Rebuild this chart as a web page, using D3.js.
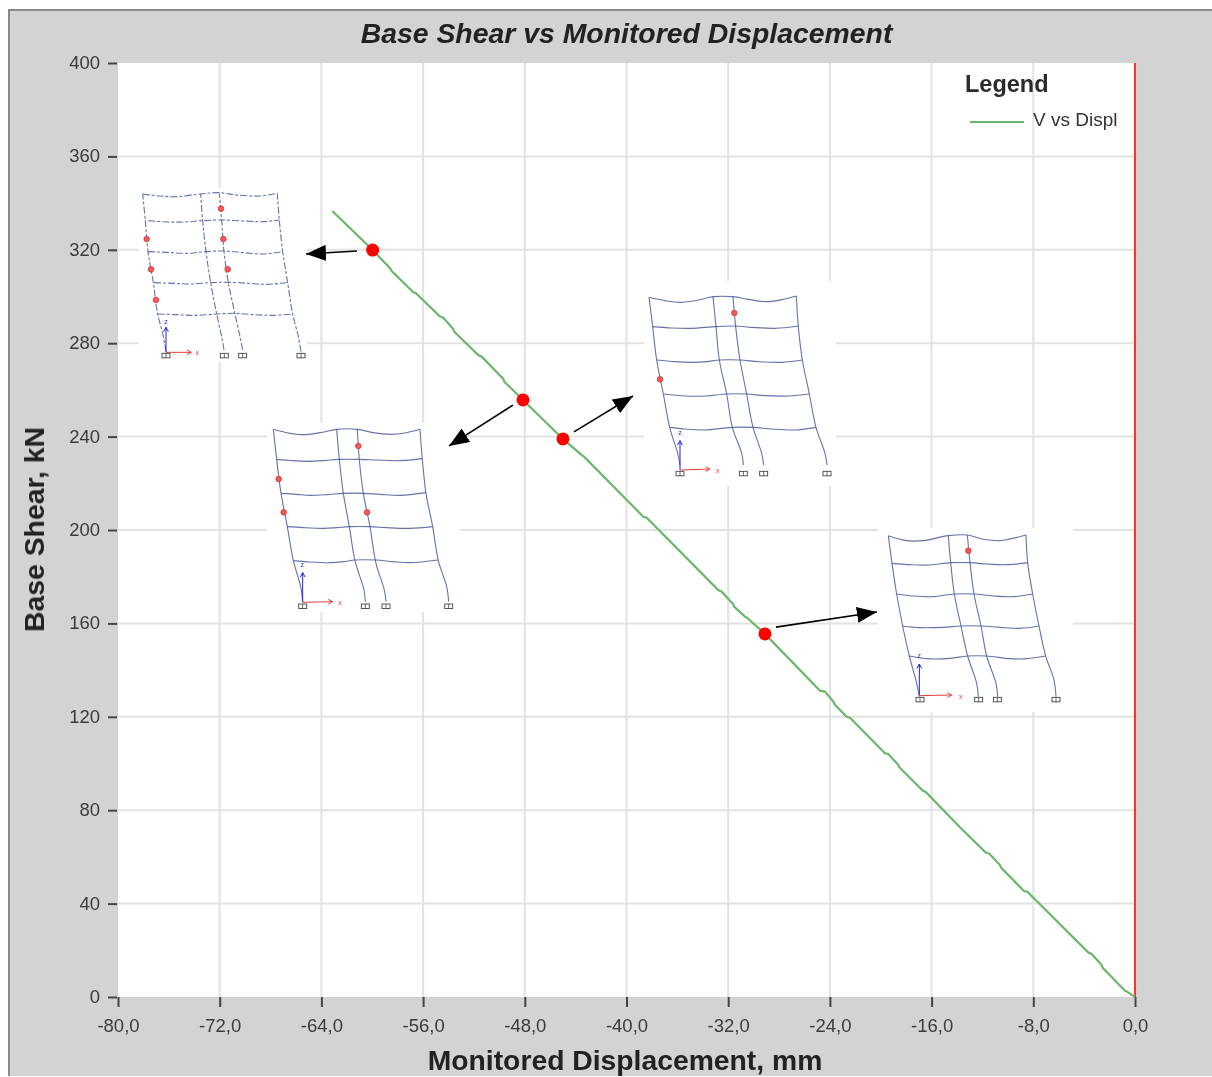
<!DOCTYPE html>
<html><head><meta charset="utf-8">
<script src="https://cdn.jsdelivr.net/npm/d3@7"></script>
<style>html,body{margin:0;padding:0;background:#fff;overflow:hidden}svg{display:block}text{font-family:"Liberation Sans",Arial,sans-serif}</style>
</head><body>
<script>
const xTickValues=[-80,-72,-64,-56,-48,-40,-32,-24,-16,-8,0];
const yTickValues=[0,40,80,120,160,200,240,280,320,360,400];
const titleText="Base Shear vs Monitored Displacement";
const xLabelText="Monitored Displacement, mm";
const yLabelText="Base Shear, kN";
const legendTitle="Legend";
const seriesName="V vs Displ";
const curveDisp=[-63.14,-59.97,-58.6,-58.47,-56.77,-56.56,-54.67,-54.41,-53.63,-53.55,-51.66,-51.39,-49.69,-49.61,-48.14,-45,-43.52,-43.34,-38.68,-38.41,-32.78,-32.51,-31.6,-31.54,-30.68,-30.47,-29.11,-24.78,-24.39,-23.73,-23.6,-22.68,-22.42,-19.67,-19.41,-18.62,-18.54,-16.7,-16.44,-13.77,-11.72,-11.46,-10.62,-10.54,-8.73,-8.47,-3.67,-3.41,-2.62,-2.54,-0.79,-0.57,0];
const curveShear=[336.6,319.9,312.1,310.9,301.8,301.4,291.4,290.9,286.1,284.9,274.9,274.2,264.7,263.5,255.7,239,232.1,231.4,205.7,205.3,174.3,173.6,168.2,167.2,162.9,162.2,155.5,131.2,130.8,126.5,125.1,120,119.6,104.4,104.1,99.4,98.4,88.4,87.7,72.7,61.8,61.4,56.5,55.4,45.4,45.1,19,18.4,13.7,12.5,2.7,2.1,0];
const stepDisp=[-59.97,-48.14,-45,-29.11];
const stepShear=[319.9,255.7,239,155.5];
// Deformed-frame sketches, each in its own sketch units
const sketchA={dashed:true,
 columns:[[[138,545],[128,490],[113,432],[100,338],[84,245],[76,152],[68,72]],[[312,540],[305,500],[290,432],[272,338],[258,245],[248,152],[242,72]],[[368,540],[360,500],[345,432],[325,338],[312,245],[305,152],[298,70]],[[543,545],[535,500],[518,432],[503,338],[488,245],[478,152],[472,70]]],
 beams:[[[68,72],[120,78],[170,80],[242,72],[298,68],[350,75],[420,78],[472,70]],[[85,152],[140,156],[195,156],[248,152],[305,150],[370,153],[430,155],[478,150]],[[84,245],[140,247],[200,250],[258,245],[312,243],[370,248],[430,252],[488,245]],[[102,338],[160,340],[215,342],[272,338],[325,337],[385,340],[440,343],[503,338]],[[113,432],[170,434],[230,436],[290,432],[345,430],[400,434],[460,436],[518,432]]],
 hinges:[[303,116],[80,207],[310,207],[93,298],[323,298],[108,390]],
 supports:[[138,556],[313,556],[368,556],[543,556]],
 origin:[138,547],zTip:[138,472],xTip:[214,547],zLabel:[138,462],xLabel:[232,554]};
const sketchB={dashed:false,
 columns:[[[128,575],[122,530],[100,452],[82,350],[63,250],[50,148],[40,58]],[[316,575],[312,540],[285,452],[268,350],[250,250],[238,148],[230,58]],[[378,575],[373,540],[348,460],[330,350],[310,250],[298,150],[292,58]],[[566,575],[560,530],[535,452],[518,350],[498,250],[487,148],[480,58]]],
 beams:[[[40,58],[80,68],[130,74],[180,68],[230,58],[292,58],[340,68],[390,73],[440,68],[480,58]],[[50,148],[100,152],[140,154],[190,152],[238,148],[298,148],[350,150],[420,152],[487,146]],[[63,250],[110,253],[150,256],[200,254],[250,250],[310,250],[360,253],[420,256],[498,248]],[[82,350],[130,353],[190,355],[230,353],[268,350],[330,350],[380,353],[450,355],[518,350]],[[100,452],[150,456],[210,458],[250,455],[285,450],[348,450],[400,455],[450,458],[535,450]]],
 hinges:[[295,108],[56,207],[71,307],[321,307]],
 supports:[[128,588],[316,588],[378,588],[566,588]],
 origin:[128,577],zTip:[128,488],xTip:[218,575],zLabel:[127,472],xLabel:[240,586]};
const sketchC={dashed:false,
 columns:[[[135,555],[128,520],[104,442],[85,342],[65,240],[53,140],[42,52]],[[325,555],[320,520],[292,442],[275,342],[253,240],[243,140],[234,50]],[[386,555],[380,520],[354,442],[335,342],[315,240],[302,140],[294,50]],[[576,555],[570,520],[543,442],[523,342],[502,240],[490,140],[484,48]]],
 beams:[[[42,52],[90,62],[135,67],[190,60],[234,50],[294,50],[340,58],[395,65],[445,58],[484,48]],[[53,140],[110,144],[170,145],[243,140],[302,138],[350,142],[420,145],[490,138]],[[65,240],[120,245],[170,247],[215,245],[253,240],[315,240],[370,245],[440,247],[502,240]],[[85,342],[150,348],[210,348],[275,342],[335,342],[390,347],[460,348],[523,342]],[[104,442],[150,447],[210,450],[292,442],[354,442],[410,447],[480,450],[543,442]]],
 hinges:[[298,99],[75,298]],
 supports:[[135,580],[325,580],[386,580],[576,580]],
 origin:[135,570],zTip:[135,482],xTip:[225,567],zLabel:[135,464],xLabel:[248,578]};
const sketchD={dashed:false,
 columns:[[[148,530],[140,490],[118,408],[98,318],[80,222],[66,130],[55,47]],[[325,530],[320,490],[293,408],[273,318],[253,222],[242,128],[235,47]],[[383,530],[378,490],[350,408],[333,318],[312,222],[300,128],[292,45]],[[558,530],[552,480],[527,408],[507,318],[488,222],[473,128],[468,45]]],
 beams:[[[55,47],[110,62],[160,62],[235,47],[292,45],[340,58],[390,62],[468,45]],[[66,130],[120,134],[180,135],[242,128],[300,128],[350,132],[410,134],[473,128]],[[80,222],[130,228],[190,230],[253,222],[312,222],[370,228],[430,230],[488,222]],[[98,318],[150,323],[220,322],[273,318],[333,318],[390,322],[450,325],[507,318]],[[118,408],[170,416],[240,415],[293,408],[350,408],[420,416],[470,416],[527,408]]],
 hinges:[[295,92]],
 supports:[[150,538],[326,538],[382,538],[558,538]],
 origin:[148,527],zTip:[148,432],xTip:[245,525],zLabel:[148,414],xLabel:[272,536]};

const W=1212,H=1077,L=118,R=1135,T=63,B=997;
const svg=d3.select("body").append("svg").attr("width",W).attr("height",H);
const defs=svg.append("defs");
defs.append("filter").attr("id","soft").append("feGaussianBlur").attr("stdDeviation",0.4);
defs.append("filter").attr("id","softer").append("feGaussianBlur").attr("stdDeviation",0.3);
defs.append("marker").attr("id","blackHead").attr("viewBox","0 0 20 16").attr("refX",20).attr("refY",8)
 .attr("markerUnits","userSpaceOnUse").attr("markerWidth",20).attr("markerHeight",16).attr("orient","auto")
 .append("path").attr("d","M0,0L20,8L0,16Z").attr("fill","#000");

// frame
svg.append("rect").attr("x",9).attr("y",10).attr("width",W-9).attr("height",H-11).attr("fill","#d3d3d3");
svg.append("path").attr("d",`M9,${H-1}V10H${W}`).attr("fill","none").attr("stroke","#8a8a8a").attr("stroke-width",2);
svg.append("rect").attr("x",L).attr("y",T).attr("width",R-L).attr("height",B-T).attr("fill","#fff");

const x=d3.scaleLinear().domain([-80,0]).range([L,R]);
const y=d3.scaleLinear().domain([0,400]).range([B,T]);
const fmtX=d3.formatLocale({decimal:",",thousands:".",grouping:[3],currency:["",""],minus:"-"}).format(".1f");

// grid
const grid=svg.append("g").attr("stroke","#e2e2e2").attr("stroke-width",2);
grid.selectAll(".gx").data(xTickValues.slice(1,-1)).join("line").attr("x1",d=>x(d)).attr("x2",d=>x(d)).attr("y1",T).attr("y2",B);
grid.selectAll(".gy").data(yTickValues.slice(1,-1)).join("line").attr("x1",L).attr("x2",R).attr("y1",d=>y(d)).attr("y2",d=>y(d));
svg.append("line").attr("x1",x(0)).attr("x2",x(0)).attr("y1",T).attr("y2",B).attr("stroke","#ff3030").attr("stroke-width",2);

// axes
const axX=svg.append("g").attr("transform",`translate(0,${B})`).call(d3.axisBottom(x).tickValues(xTickValues).tickFormat(fmtX).tickSize(10).tickPadding(8));
const axY=svg.append("g").attr("transform",`translate(${L-1},0)`).call(d3.axisLeft(y).tickValues(yTickValues).tickSize(9).tickPadding(8));
[axX,axY].forEach(a=>{a.select(".domain").remove();
 a.selectAll("line").attr("stroke","#444").attr("stroke-width",2);
 a.selectAll("text").attr("fill","#3a3a3a").attr("font-size",18.5).attr("font-family",'"Liberation Sans",Arial,sans-serif').attr("filter","url(#softer)");});
axY.selectAll("text").attr("dy","0").attr("y",5.5);
axX.selectAll("text").attr("dy","0").attr("y",35);

// series
svg.append("path").datum(d3.zip(curveDisp,curveShear)).attr("fill","none").attr("stroke","#6cb56c").attr("stroke-width",2.2)
 .attr("d",d3.line().x(d=>x(d[0])).y(d=>y(d[1])));

// inset sketches
const curve=d3.line().curve(d3.curveCatmullRom.alpha(0.5));
function drawSketch(s,box,zoomOrigin){
 const sx=d3.scaleLinear().domain([0,3]).range([zoomOrigin[0],zoomOrigin[0]+1]);
 const sy=d3.scaleLinear().domain([0,3]).range([zoomOrigin[1],zoomOrigin[1]+1]);
 const P=p=>[sx(p[0]),sy(p[1])];
 svg.append("rect").attr("x",box[0]).attr("y",box[1]).attr("width",box[2]-box[0]).attr("height",box[3]-box[1]).attr("fill","#fff");
 const g=svg.append("g").attr("filter","url(#soft)");
 const frame=g.append("g").attr("fill","none").attr("stroke","#4a5a9e").attr("stroke-width",1.1).attr("stroke-opacity",0.85);
 if(s.dashed) frame.attr("stroke-dasharray","7 2 3 2");
 s.columns.concat(s.beams).forEach(c=>frame.append("path").attr("d",curve(c.map(P))));
 s.supports.forEach(p=>{const [a,b]=P(p);
  g.append("rect").attr("x",a-4).attr("y",b-2).attr("width",8).attr("height",4.5).attr("fill","#fff").attr("stroke","#444").attr("stroke-width",0.9);
  g.append("line").attr("x1",a).attr("x2",a).attr("y1",b-2).attr("y2",b+2.5).attr("stroke","#444").attr("stroke-width",0.8);});
 const arrow=(from,to,col)=>{const [a,b]=P(from),[c,d]=P(to);const th=Math.atan2(d-b,c-a),h=5;
  g.append("line").attr("x1",a).attr("y1",b).attr("x2",c).attr("y2",d).attr("stroke",col).attr("stroke-width",1);
  g.append("path").attr("d",`M${c-h*Math.cos(th-0.5)},${d-h*Math.sin(th-0.5)}L${c},${d}L${c-h*Math.cos(th+0.5)},${d-h*Math.sin(th+0.5)}`).attr("fill","none").attr("stroke",col).attr("stroke-width",1);};
 arrow(s.origin,s.zTip,"#2020d8"); arrow(s.origin,s.xTip,"#e04040");
 g.append("text").attr("x",P(s.zLabel)[0]).attr("y",P(s.zLabel)[1]).attr("text-anchor","middle").attr("font-size",7).attr("fill","#3030d0").text("z");
 g.append("text").attr("x",P(s.xLabel)[0]).attr("y",P(s.xLabel)[1]).attr("text-anchor","middle").attr("font-size",7).attr("fill","#e04040").text("x");
 g.selectAll(".h").data(s.hinges).join("circle").attr("cx",d=>P(d)[0]).attr("cy",d=>P(d)[1]).attr("r",2.8)
  .attr("fill","#f05a5a").attr("stroke","#d02828").attr("stroke-width",0.7);
}
drawSketch(sketchA,[139,188,307,362],[120,170]);
drawSketch(sketchB,[267,423,460,612],[260,410]);
drawSketch(sketchC,[644,281,836,486],[635,280]);
drawSketch(sketchD,[878,528,1073,712],[870,520]);

// annotation arrows (data coordinates)
[[[-61.2,319.5],[-65.21,318.2]],[[-48.93,253.5],[-53.96,236]],[[-44.13,242],[-39.49,257.4]],[[-28.24,158.4],[-20.3,164.9]]].forEach(a=>{
 svg.append("line").attr("x1",x(a[0][0])).attr("y1",y(a[0][1])).attr("x2",x(a[1][0])).attr("y2",y(a[1][1]))
  .attr("stroke","#000").attr("stroke-width",1.6).attr("marker-end","url(#blackHead)");});

// step markers
svg.selectAll(".step").data(d3.zip(stepDisp,stepShear)).join("circle").attr("cx",d=>x(d[0])).attr("cy",d=>y(d[1])).attr("r",6.5).attr("fill","#f00");

// legend
svg.append("text").attr("x",965).attr("y",92).attr("font-size",23.5).attr("font-weight","bold").attr("fill","#2b2b2b").attr("filter","url(#softer)").text(legendTitle);
svg.append("line").attr("x1",970).attr("x2",1024).attr("y1",122).attr("y2",122).attr("stroke","#6cb56c").attr("stroke-width",2.2);
svg.append("text").attr("x",1033).attr("y",126).attr("font-size",19).attr("fill","#333").attr("filter","url(#softer)").text(seriesName);

// titles
svg.append("text").attr("x",626.5).attr("y",43).attr("text-anchor","middle").attr("font-size",28.4).attr("font-weight","bold").attr("font-style","italic").attr("fill","#222").attr("filter","url(#softer)").text(titleText);
svg.append("text").attr("x",625).attr("y",1070).attr("text-anchor","middle").attr("font-size",28.3).attr("font-weight","bold").attr("fill","#222").attr("filter","url(#softer)").text(xLabelText);
svg.append("text").attr("transform","translate(44,529.5) rotate(-90)").attr("text-anchor","middle").attr("font-size",28.4).attr("font-weight","bold").attr("fill","#222").attr("filter","url(#softer)").text(yLabelText);
</script>
</body></html>
